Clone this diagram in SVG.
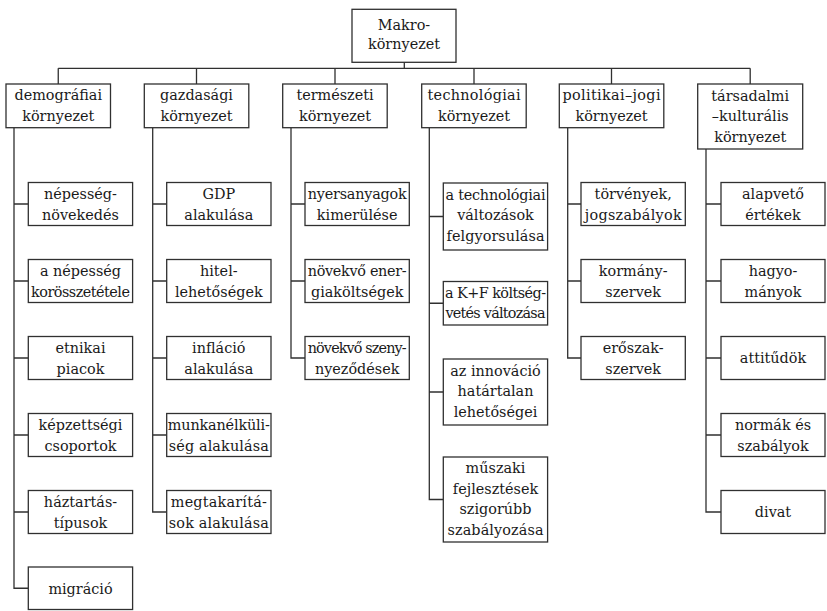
<svg xmlns="http://www.w3.org/2000/svg" width="827" height="611" viewBox="0 0 827 611">
<style>
.bg{fill:#ffffff}
.box{fill:#ffffff;stroke:#303030;stroke-width:1.3}
.conn{fill:none;stroke:#303030;stroke-width:1.3}
text{font-family:"DejaVu Serif","Liberation Serif",serif;font-size:14.4px;fill:#1a1a1a;text-anchor:middle}
</style>
<rect class="bg" x="0" y="0" width="827" height="611"/>
<g id="connectors">
<path class="conn" d="M404.3 62.3V68.3M58.25 68.3H750.2M58.25 68.3V84M196.5 68.3V84M335 68.3V84M474 68.3V84M611.5 68.3V84M750.2 68.3V84"/>
<path class="conn" d="M14 127.7V588.25H28.3M14 204H28.3M14 281H28.3M14 358H28.3M14 435H28.3M14 512H28.3"/>
<path class="conn" d="M152.7 127.7V512H166.7M152.7 204H166.7M152.7 281H166.7M152.7 358H166.7M152.7 435H166.7"/>
<path class="conn" d="M291 127.7V358H305M291 204H305M291 281H305"/>
<path class="conn" d="M429.3 127.7V499.5H443.3M429.3 216.5H443.3M429.3 303.25H443.3M429.3 392H443.3"/>
<path class="conn" d="M567.7 127.7V358H581M567.7 204H581M567.7 281H581"/>
<path class="conn" d="M706 149V512H721M706 204H721M706 281H721M706 358H721M706 435H721"/>
</g>
<g id="makro"><rect class="box" x="352" y="9.3" width="104" height="53"/><text x="404" y="29.8">Makro-</text><text x="404" y="49.3">környezet</text></g>
<g id="demografiai"><rect class="box" x="6" y="84" width="104.5" height="43.7"/><text x="58.25" y="100.1">demográfiai</text><text x="58.25" y="120.6">környezet</text></g>
<g id="gazdasagi"><rect class="box" x="144.3" y="84" width="104.5" height="43.7"/><text x="196.5" y="100.1">gazdasági</text><text x="196.5" y="120.6">környezet</text></g>
<g id="termeszeti"><rect class="box" x="282.7" y="84" width="104.5" height="43.7"/><text x="335" y="100.1">természeti</text><text x="335" y="120.6">környezet</text></g>
<g id="technologiai"><rect class="box" x="421.7" y="84" width="104.5" height="43.7"/><text x="474" y="100.1" textLength="93">technológiai</text><text x="474" y="120.6">környezet</text></g>
<g id="politikai"><rect class="box" x="559.3" y="84" width="104.5" height="43.7"/><text x="611.5" y="100.1" textLength="98">politikai–jogi</text><text x="611.5" y="120.6">környezet</text></g>
<g id="tarsadalmi"><rect class="box" x="697.7" y="84" width="105" height="65"/><text x="750.2" y="100.5">társadalmi</text><text x="750.2" y="121">–kulturális</text><text x="750.2" y="141.5">környezet</text></g>
<g id="nepesseg-novekedes"><rect class="box" x="28.3" y="182.5" width="104.3" height="43"/><text x="80.5" y="199">népesség-</text><text x="80.5" y="219.5">növekedés</text></g>
<g id="korosszetetel"><rect class="box" x="28.3" y="259.5" width="104.3" height="43"/><text x="80.5" y="276">a népesség</text><text x="80.5" y="296.5" textLength="99">korösszetétele</text></g>
<g id="etnikai"><rect class="box" x="28.3" y="336.5" width="104.3" height="43"/><text x="80.5" y="353">etnikai</text><text x="80.5" y="373.5">piacok</text></g>
<g id="kepzettsegi"><rect class="box" x="28.3" y="413.5" width="104.3" height="43"/><text x="80.5" y="430">képzettségi</text><text x="80.5" y="450.5">csoportok</text></g>
<g id="haztartas"><rect class="box" x="28.3" y="490.5" width="104.3" height="43"/><text x="80.5" y="507">háztartás-</text><text x="80.5" y="527.5">típusok</text></g>
<g id="migracio"><rect class="box" x="28.3" y="567" width="104.3" height="42.5"/><text x="80.5" y="593.5">migráció</text></g>
<g id="gdp"><rect class="box" x="166.7" y="182.5" width="104.3" height="43"/><text x="218.8" y="199">GDP</text><text x="218.8" y="219.5">alakulása</text></g>
<g id="hitel"><rect class="box" x="166.7" y="259.5" width="104.3" height="43"/><text x="218.8" y="276">hitel-</text><text x="218.8" y="296.5">lehetőségek</text></g>
<g id="inflacio"><rect class="box" x="166.7" y="336.5" width="104.3" height="43"/><text x="218.8" y="353">infláció</text><text x="218.8" y="373.5">alakulása</text></g>
<g id="munkanelkuliseg"><rect class="box" x="166.7" y="413.5" width="104.3" height="43"/><text x="218.8" y="430" textLength="102">munkanélküli-</text><text x="218.8" y="450.5" textLength="100">ség alakulása</text></g>
<g id="megtakaritasok"><rect class="box" x="166.7" y="490.5" width="104.3" height="43"/><text x="218.8" y="507" textLength="96">megtakarítá-</text><text x="218.8" y="527.5" textLength="100">sok alakulása</text></g>
<g id="nyersanyagok"><rect class="box" x="305" y="182.5" width="104.3" height="43"/><text x="357.2" y="199" textLength="99">nyersanyagok</text><text x="357.2" y="219.5">kimerülése</text></g>
<g id="energia"><rect class="box" x="305" y="259.5" width="104.3" height="43"/><text x="357.2" y="276" textLength="99">növekvő ener-</text><text x="357.2" y="296.5">giaköltségek</text></g>
<g id="szennyezodes"><rect class="box" x="305" y="336.5" width="104.3" height="43"/><text x="357.2" y="353" textLength="99">növekvő szeny-</text><text x="357.2" y="373.5">nyeződések</text></g>
<g id="tech-valtozasok"><rect class="box" x="443.3" y="183" width="104.3" height="67"/><text x="495.5" y="199.5" textLength="100">a technológiai</text><text x="495.5" y="220">változások</text><text x="495.5" y="240.5" textLength="98">felgyorsulása</text></g>
<g id="kf"><rect class="box" x="443.3" y="281.5" width="104.3" height="43.5"/><text x="495.5" y="297.8" textLength="101">a K+F költség-</text><text x="495.5" y="318.3" textLength="100">vetés változása</text></g>
<g id="innovacio"><rect class="box" x="443.3" y="359" width="104.3" height="66"/><text x="495.5" y="375.5">az innováció</text><text x="495.5" y="396">határtalan</text><text x="495.5" y="416.5">lehetőségei</text></g>
<g id="muszaki"><rect class="box" x="443.3" y="457" width="104.3" height="85"/><text x="495.5" y="473.3">műszaki</text><text x="495.5" y="493.8">fejlesztések</text><text x="495.5" y="514.3">szigorúbb</text><text x="495.5" y="534.8" textLength="96">szabályozása</text></g>
<g id="torvenyek"><rect class="box" x="581" y="182.5" width="104.3" height="43"/><text x="633.2" y="199">törvények,</text><text x="633.2" y="219.5" textLength="97">jogszabályok</text></g>
<g id="kormanyszervek"><rect class="box" x="581" y="259.5" width="104.3" height="43"/><text x="633.2" y="276">kormány-</text><text x="633.2" y="296.5">szervek</text></g>
<g id="eroszakszervek"><rect class="box" x="581" y="336.5" width="104.3" height="43"/><text x="633.2" y="353">erőszak-</text><text x="633.2" y="373.5">szervek</text></g>
<g id="ertekek"><rect class="box" x="721" y="182.5" width="104" height="43"/><text x="773" y="199">alapvető</text><text x="773" y="219.5">értékek</text></g>
<g id="hagyomanyok"><rect class="box" x="721" y="259.5" width="104" height="43"/><text x="773" y="276">hagyo-</text><text x="773" y="296.5">mányok</text></g>
<g id="attitudok"><rect class="box" x="721" y="336.5" width="104" height="43"/><text x="773" y="363">attitűdök</text></g>
<g id="normak"><rect class="box" x="721" y="413.5" width="104" height="43"/><text x="773" y="430">normák és</text><text x="773" y="450.5">szabályok</text></g>
<g id="divat"><rect class="box" x="721" y="490.5" width="104" height="43"/><text x="773" y="517">divat</text></g>
</svg>
